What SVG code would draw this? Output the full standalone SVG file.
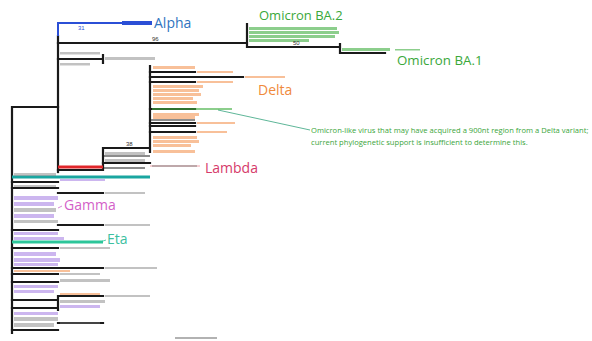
<svg xmlns="http://www.w3.org/2000/svg" width="592" height="341" viewBox="0 0 592 341">
<style>
.br{stroke:#1a1a1a;stroke-width:2.2;fill:none;stroke-linecap:square}
.thin{stroke:#1a1a1a;stroke-width:1.2;fill:none}
.lab{font-family:"Open Sans","Liberation Sans",sans-serif;font-size:14px}
.sup{font-family:"Liberation Sans",sans-serif;font-size:6px;fill:#333}
.or{fill:#f28c45;opacity:.55}
.gr{fill:#3fae3f;opacity:.6}
.pu{fill:#9a6ee0;opacity:.5}
.gy{fill:#777;opacity:.45}
.note{font-family:"Open Sans","Liberation Sans",sans-serif;font-size:7.6px;fill:#3aa53a}
</style>
<rect width="592" height="341" fill="#fff"/>
<g id="connectors">
<path class="br" d="M12,107 V333 M12,107 H58"/>
<path class="br" d="M58,36 V172"/>
<path d="M58,36 V23 H150" stroke="#2b4fd6" stroke-width="2" fill="none"/>
<path d="M122,23 H152" stroke="#2b4fd6" stroke-width="4" fill="none"/>
<path class="br" d="M58,43 H247 M247,24 V47 H340 M340,44 V53 H385"/>
<path class="br" d="M58,59 H103 M103,55 V63"/>
<path class="br" d="M58,170 H103 M103,148 V170 M103,148 H150 M150,66 V152"/>
<path d="M58,167 H103" stroke="#e0262a" stroke-width="3" fill="none"/>
<path class="br" d="M103,163 H150"/>
<path class="thin" d="M103,156 H150 M103,168 H145"/>
<path d="M150,166 H200" stroke="#f0a0a8" stroke-width="1" fill="none"/>
<path class="br" d="M150,72 H195 M150,77 H243 M150,82 H195 M150,109 H195 M150,123 H195 M150,126 H195 M150,132 H195"/>
<path class="thin" d="M150,120 H195"/>
<path d="M218,110 L310,130" stroke="#4cae8c" stroke-width="0.9" fill="none"/>
<path d="M12,177 H150" stroke="#1aa6a0" stroke-width="3" fill="none"/>
<path class="br" d="M12,182 H58 M58,193 H103 M12,188 H58 M58,225 H103 M12,230 H58 M12,248 H58 M12,268 H103 M12,274 H58 M12,282 H58 M58,296 H103 M58,296 V310 M12,300 H58 M12,308 H58 M58,323 H103 M12,330 H58"/>
<path d="M12,242 H103" stroke="#2cc69a" stroke-width="3" fill="none"/>
<path d="M58,208 L62,206" stroke="#cc66cc" stroke-width="0.8"/>
<path d="M100,242 L106,240" stroke="#2cc69a" stroke-width="0.8"/>
<path d="M175,338 H217" stroke="#999" stroke-width="1.5"/>
</g>
<g id="tips">
<rect class="gy" x="60" y="52" width="40" height="2.5"/>
<rect class="gy" x="60" y="63" width="30" height="2.5"/>
<rect class="gy" x="105" y="57" width="50" height="3"/>
<rect class="or" x="153" y="66" width="42" height="3"/>
<rect class="or" x="153" y="85" width="50" height="3"/>
<rect class="or" x="153" y="89" width="46" height="3"/>
<rect class="or" x="153" y="93" width="48" height="3"/>
<rect class="or" x="153" y="97" width="40" height="3"/>
<rect class="or" x="153" y="101" width="44" height="3"/>
<rect class="or" x="153" y="113" width="46" height="3"/>
<rect class="or" x="153" y="116" width="42" height="3"/>
<rect class="or" x="153" y="136" width="44" height="3"/>
<rect class="or" x="153" y="140" width="46" height="3"/>
<rect class="or" x="153" y="144" width="38" height="3"/>
<rect class="or" x="153" y="150" width="42" height="3"/>
<rect class="or" x="197" y="71" width="36" height="2"/>
<rect class="or" x="245" y="76" width="40" height="2"/>
<rect class="or" x="197" y="81" width="36" height="2"/>
<rect class="gr" x="152" y="108" width="80" height="2"/>
<rect class="or" x="197" y="122" width="38" height="2"/>
<rect class="or" x="197" y="131" width="30" height="2"/>
<rect class="gr" x="249" y="27" width="88" height="3"/>
<rect class="gr" x="249" y="31" width="90" height="3"/>
<rect class="gr" x="249" y="35" width="86" height="3"/>
<rect class="gr" x="249" y="39" width="60" height="3"/>
<rect class="gr" x="342" y="48" width="48" height="3"/>
<rect class="gr" x="395" y="49" width="25" height="1.5"/>
<rect class="gy" x="105" y="152" width="40" height="3"/>
<rect class="gy" x="105" y="159" width="40" height="3"/>
<rect class="gy" x="152" y="165" width="45" height="2"/>
<rect class="gy" x="14" y="173" width="42" height="3"/>
<rect class="pu" x="60" y="179" width="45" height="2"/>
<rect class="gy" x="14" y="185" width="42" height="2"/>
<rect class="gy" x="105" y="192" width="40" height="2"/>
<rect class="pu" x="14" y="196" width="44" height="4"/>
<rect class="pu" x="14" y="202" width="40" height="4"/>
<rect class="gy" x="14" y="208" width="42" height="4"/>
<rect class="pu" x="14" y="214" width="40" height="4"/>
<rect class="gy" x="14" y="220" width="44" height="3"/>
<rect class="gy" x="105" y="224" width="45" height="2"/>
<rect class="pu" x="14" y="232" width="44" height="3"/>
<rect class="pu" x="14" y="237" width="50" height="3"/>
<rect class="gy" x="60" y="247" width="50" height="2"/>
<rect class="pu" x="14" y="252" width="42" height="4"/>
<rect class="pu" x="14" y="258" width="46" height="4"/>
<rect class="pu" x="14" y="263" width="44" height="3"/>
<rect class="gy" x="105" y="267" width="52" height="2"/>
<rect class="or" x="14" y="270" width="56" height="2"/>
<rect class="gy" x="60" y="273" width="40" height="2"/>
<rect class="gy" x="60" y="279" width="50" height="3"/>
<rect class="pu" x="14" y="285" width="44" height="3"/>
<rect class="pu" x="14" y="290" width="40" height="3"/>
<rect class="or" x="60" y="293" width="40" height="2"/>
<rect class="gy" x="105" y="295" width="45" height="2"/>
<rect class="gy" x="60" y="300" width="45" height="3"/>
<rect class="pu" x="60" y="305" width="40" height="3"/>
<rect class="pu" x="14" y="312" width="44" height="3"/>
<rect class="gy" x="14" y="317" width="44" height="4"/>
<rect class="gy" x="14" y="323" width="40" height="4"/>
<rect class="gy" x="60" y="322" width="40" height="2"/>
</g>
<g id="supports">
<text class="sup" x="78" y="30" style="fill:#2b4fd6">31</text>
<text class="sup" x="152" y="41">96</text>
<text class="sup" x="293" y="45">50</text>
<text class="sup" x="126" y="146">38</text>
</g>
<g id="alpha"><text class="lab" x="154" y="28" fill="#2f74c0">Alpha</text></g>
<g id="omicron-ba2"><text class="lab" x="259" y="20" fill="#3aa83a" style="font-size:13px">Omicron BA.2</text></g>
<g id="omicron-ba1"><text class="lab" x="397" y="65" fill="#3aa83a" style="font-size:13.3px">Omicron BA.1</text></g>
<g id="delta"><text class="lab" x="258" y="95" fill="#f08a3c">Delta</text></g>
<g id="lambda"><text class="lab" x="205" y="173" fill="#d63a6a">Lambda</text></g>
<g id="gamma"><text class="lab" x="64" y="210" fill="#d35fc8">Gamma</text></g>
<g id="eta"><text class="lab" x="107" y="244" fill="#3cc0a0">Eta</text></g>
<g id="note">
<text class="note" x="311" y="133">Omicron-like virus that may have acquired a 900nt region from a Delta variant;</text>
<text class="note" x="311" y="145">current phylogenetic support is insufficient to determine this.</text>
</g>
</svg>
